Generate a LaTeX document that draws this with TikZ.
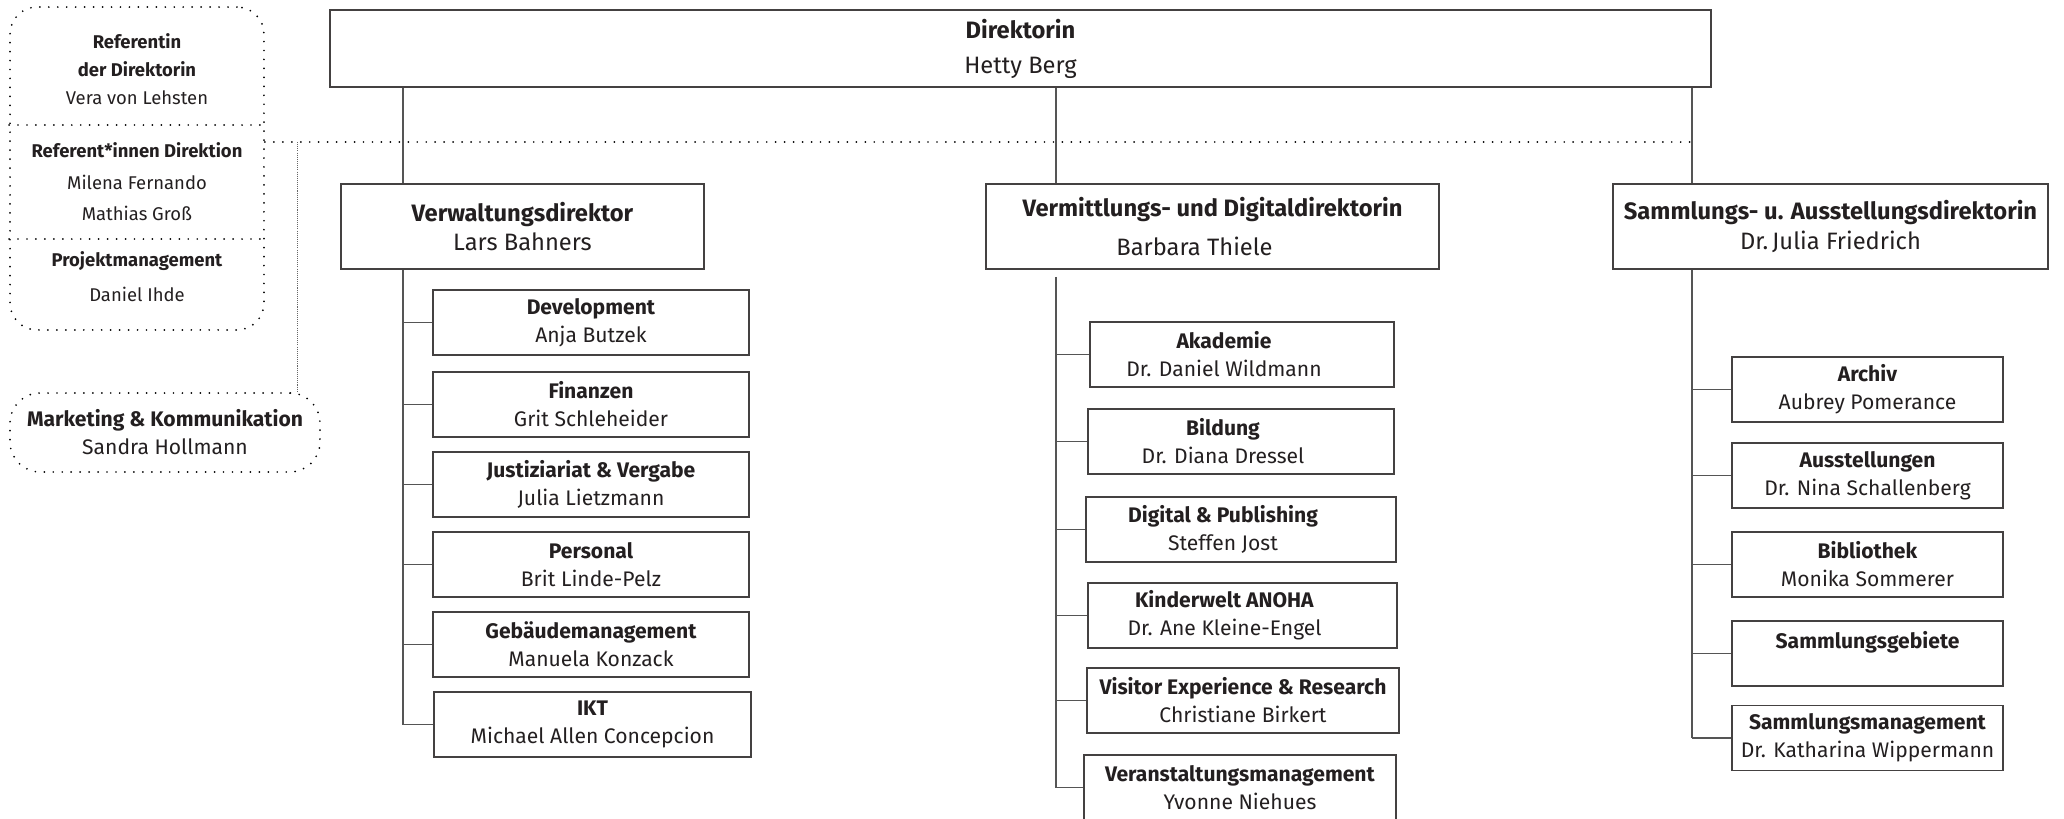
\documentclass[tikz,border=0pt]{standalone}
\usepackage{fontspec}
\setmainfont{Fira Sans}
\definecolor{ink}{HTML}{231F20}
\definecolor{linegray}{HTML}{555555}
\newcommand{\shl}[1]{\mbox{#1\hspace{.72cm}}}

\begin{document}
\begin{tikzpicture}[x=0.02cm, y=-0.02cm,
        box/.style={draw=ink!85, line width=0.9pt, align=center, inner sep=0pt, text=ink},
        head/.style={box, font=\fontsize{13.5}{19.9}\selectfont},
        chief/.style={box, font=\fontsize{13.5}{17}\selectfont, minimum height=1.7cm},
        unit/.style={box, font=\fontsize{12}{15.9}\selectfont, minimum height=1.3cm},
        link/.style={draw=linegray, line width=0.8pt},
        dotline/.style={line width=1.1pt, dash pattern=on 0pt off 5.1pt, line cap=round},
        thindots/.style={draw=black!60, line width=0.4pt, dash pattern=on 0.6pt off 0.6pt},
        staffbox/.style={dotline, draw, rounded corners=0.54cm},
        staff/.style={align=center, text=ink, font=\fontsize{10.5}{15.9}\selectfont}]
        \useasboundingbox (0,0) rectangle (2064,818);

        \node[head, minimum width=27.62cm, minimum height=1.54cm] (dir) at (1020.5,48.5) {\textbf{Direktorin}\\Hetty Berg};

        \node[chief, minimum width=7.26cm] (verw) at (522.5,226.5) {\textbf{Verwaltungsdirektor}\\Lars Bahners};
        \node[chief, minimum width=9.06cm] (verm) at (1212.5,226.5) {\textbf{Vermittlungs- und Digitaldirektorin}\\[.2cm]\shl{Barbara Thiele}};
        \node[chief, minimum width=8.7cm] (samm) at (1830.5,226.5) {\textbf{Sammlungs- u. Ausstellungsdirektorin}\\Dr.\,Julia Friedrich};

        \node[unit, minimum width=6.32cm] (dev) at (591,322.5) {\textbf{Development}\\Anja Butzek};
        \node[unit, minimum width=6.32cm] (fin) at (591,404.5) {\textbf{Finanzen}\\Grit Schleheider};
        \node[unit, minimum width=6.32cm] (just) at (591,484.5) {\textbf{Justiziariat \& Vergabe}\\Julia Lietzmann};
        \node[unit, minimum width=6.32cm] (pers) at (591,564.5) {\textbf{Personal}\\Brit Linde-Pelz};
        \node[unit, minimum width=6.32cm] (geb) at (591,644.5) {\textbf{Gebäudemanagement}\\Manuela Konzack};
        \node[unit, minimum width=6.34cm] (ikt) at (592.5,724.5) {\textbf{IKT}\\Michael Allen Concepcion};

        \node[unit, minimum width=6.08cm] (akad) at (1242,354.5) {\shl{\textbf{Akademie}}\\\shl{Dr. Daniel Wildmann}};
        \node[unit, minimum width=6.12cm] (bild) at (1241,441.5) {\shl{\textbf{Bildung}}\\\shl{Dr. Diana Dressel}};
        \node[unit, minimum width=6.2cm] (digi) at (1241,529.5) {\shl{\textbf{Digital \& Publishing}}\\\shl{Steffen Jost}};
        \node[unit, minimum width=6.18cm] (kind) at (1242.5,615.5) {\shl{\textbf{Kinderwelt ANOHA}}\\\shl{Dr. Ane Kleine-Engel}};
        \node[unit, minimum width=6.24cm] (visi) at (1243,700.5) {\textbf{Visitor Experience \& Research}\\Christiane Birkert};
        \node[unit, minimum width=6.24cm] (vera) at (1240,787.5) {\textbf{Veranstaltungsmanagement}\\Yvonne Niehues};

        \node[unit, minimum width=5.42cm] (arch) at (1867.5,389.5) {\textbf{Archiv}\\Aubrey Pomerance};
        \node[unit, minimum width=5.42cm] (auss) at (1867.5,475.5) {\textbf{Ausstellungen}\\Dr. Nina Schallenberg};
        \node[unit, minimum width=5.42cm] (bibl) at (1867.5,564.5) {\textbf{Bibliothek}\\Monika Sommerer};
        \node[unit, minimum width=5.42cm] (gebi) at (1867.5,653.5) {\textbf{Sammlungsgebiete}\\~};
        \node[unit, minimum width=5.42cm] (smgt) at (1867.5,738) {\textbf{Sammlungsmanagement}\\Dr. Katharina Wippermann};

        \coordinate (sp1) at (403,0);
        \coordinate (sp2) at (1056,0);
        \coordinate (sp3) at (1692,0);

        \draw[link] (dir.south -| sp1) -- (verw.north -| sp1);
        \draw[link] (dir.south -| sp2) -- (verm.north -| sp2);
        \draw[link] (dir.south -| sp3) -- (samm.north -| sp3);

        \draw[link] (verw.south -| sp1) -- (sp1 |- ikt.west);
        \draw[link] ([yshift=-0.14cm]verm.south -| sp2) -- (sp2 |- vera.west);
        \draw[link] (samm.south -| sp3) -- (sp3 |- smgt.west);
        \foreach \u in {dev,fin,just,pers,geb,ikt}
            \draw[link] (sp1 |- \u.west) -- (\u.west);
        \foreach \u in {akad,bild,digi,kind,visi,vera}
            \draw[link] (sp2 |- \u.west) -- (\u.west);
        \foreach \u in {arch,auss,bibl,gebi,smgt}
            \draw[link] (sp3 |- \u.west) -- (\u.west);

        \node[staffbox, minimum width=5.08cm, minimum height=6.46cm] (refbox) at (137,168.5) {};
        \coordinate (cut1) at (0,125);
        \coordinate (cut2) at (0,239);
        \draw[dotline] (refbox.west |- cut1) -- (refbox.east |- cut1);
        \draw[dotline] (refbox.west |- cut2) -- (refbox.east |- cut2);
        \node[staff] (ref1) at (137,69) {\textbf{Referentin}\\\textbf{der Direktorin}\\Vera von Lehsten};
        \node[staff] (ref2) at (137,182) {\textbf{Referent*innen Direktion}\\[2pt]Milena Fernando\\[2pt]Mathias Groß};
        \node[staff] (ref3) at (137,276.5) {\textbf{Projektmanagement}\\[4pt]Daniel Ihde};

        \node[staffbox, rounded corners=0.6cm, minimum width=6.2cm, minimum height=1.58cm, align=center, text=ink, font=\fontsize{12}{15.9}\selectfont] (mkt) at (165,432.5) {\textbf{Marketing \& Kommunikation}\\Sandra Hollmann};

        \coordinate (stab) at (297,142);
        \draw[dotline] (refbox.east |- stab) -- (sp3 |- stab);
        \draw[thindots] (stab) -- (mkt.north -| stab);
    \end{tikzpicture}
\end{document}
